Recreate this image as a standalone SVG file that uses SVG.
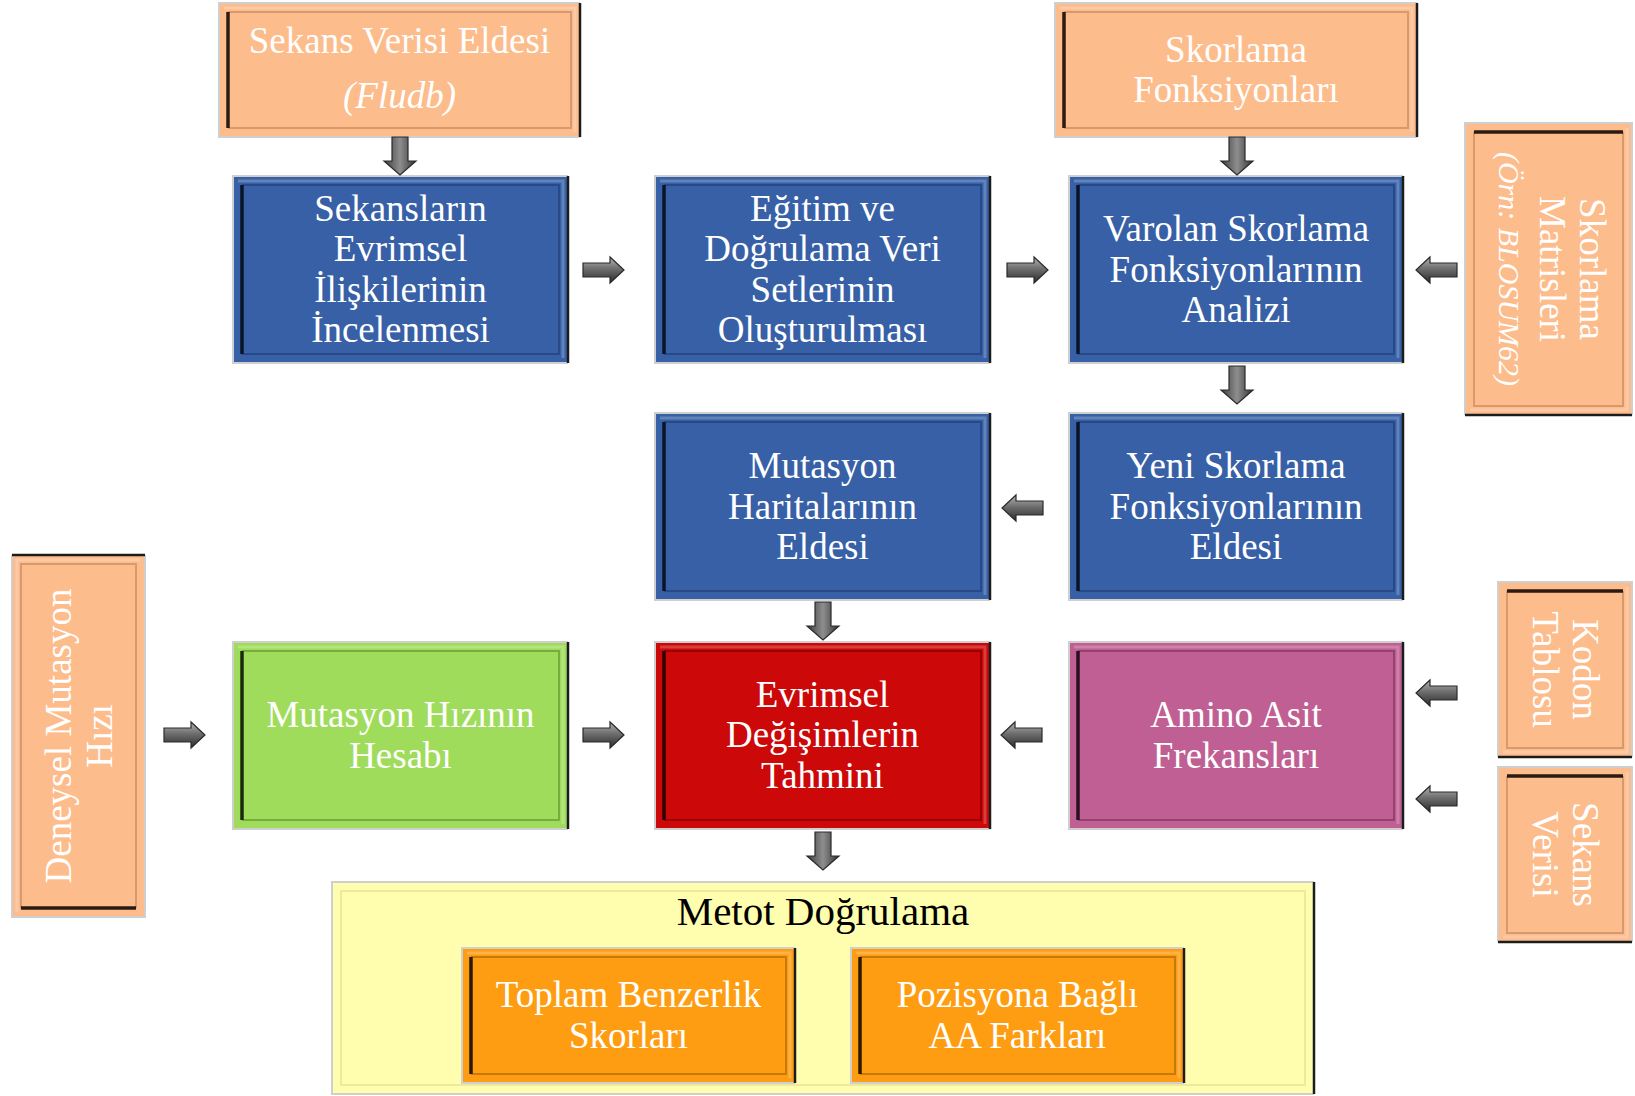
<svg xmlns="http://www.w3.org/2000/svg" width="1635" height="1096" viewBox="0 0 1635 1096">
  <defs>
    <linearGradient id="gH" x1="0" y1="0" x2="0" y2="1">
      <stop offset="0" stop-color="#b4b4b4"/>
      <stop offset="0.45" stop-color="#6e6e6e"/>
      <stop offset="1" stop-color="#2c2c2c"/>
    </linearGradient>
    <linearGradient id="gV" x1="0" y1="0" x2="1" y2="0">
      <stop offset="0" stop-color="#3c3c3c"/>
      <stop offset="0.5" stop-color="#8e8e8e"/>
      <stop offset="1" stop-color="#333333"/>
    </linearGradient>
  </defs>
  <style>
    .ol{fill:none;stroke:#cfcfcf;stroke-width:2}
    .od{fill:none;stroke:#1c1c1c;stroke-width:2.5}
    .hl{fill:none;stroke:#ffffff;stroke-opacity:0.22;stroke-width:3}
    .in{fill:none;stroke-width:2}
    .thick{fill:none;stroke-width:3.5}
    .t{font-family:"Liberation Serif","Times New Roman",serif;font-size:37px;fill:#ffffff;text-anchor:middle}
    .i{font-style:italic}
    .sm{font-size:30px}
    .title{font-family:"Liberation Serif","Times New Roman",serif;font-size:41px;fill:#000000;text-anchor:middle}
    .peach .body{fill:#FDBC8C} .peach .in{stroke:#d8996c} .peach .thick{stroke:#2a1a10}
    .blue .body{fill:#3760A6} .blue .in{stroke:#27498a} .blue .thick{stroke:#0b1426}
    .green .body{fill:#A0DC5B} .green .in{stroke:#76ad3c} .green .thick{stroke:#1a2a0a}
    .red .body{fill:#CC0808} .red .in{stroke:#9a0000} .red .thick{stroke:#2e0000}
    .pink .body{fill:#BF5F93} .pink .in{stroke:#964270} .pink .thick{stroke:#2a0f1e}
    .orange .body{fill:#FF9D12} .orange .in{stroke:#c8790a} .orange .thick{stroke:#2a1a00}
    .yellow .body{fill:#FFFDAE} .yellow .in{stroke:#ecea9c}
    .arr-h{fill:url(#gH);stroke:#2a2a2a;stroke-width:1.2}
    .arr-v{fill:url(#gV);stroke:#2a2a2a;stroke-width:1.2}
  </style>

  <rect width="1635" height="1096" fill="#ffffff"/>

  <!-- source data (top left) -->
  <g id="n-sekans-verisi-eldesi" class="node peach">
    <rect class="body" x="219" y="3" width="361" height="134"/>
    <path class="ol" d="M580,3 H219 V137 H580"/>
    <path class="od" d="M580,3 V137"/>
    <path class="hl" d="M224,8 H575 V132"/>
    <path class="in" d="M228,12 H571 V128 H228"/>
    <path class="thick" d="M228,12 V128"/>
    <text class="t" x="399.5" y="53">Sekans Verisi Eldesi</text>
    <text class="t i" x="399.5" y="108">(Fludb)</text>
  </g>

  <g id="n-skorlama-fonksiyonlari" class="node peach">
    <rect class="body" x="1055" y="3" width="362" height="134"/>
    <path class="ol" d="M1417,3 H1055 V137 H1417"/>
    <path class="od" d="M1417,3 V137"/>
    <path class="hl" d="M1060,8 H1412 V132"/>
    <path class="in" d="M1064,12 H1408 V128 H1064"/>
    <path class="thick" d="M1064,12 V128"/>
    <text class="t" x="1236" y="62">Skorlama</text>
    <text class="t" x="1236" y="102">Fonksiyonları</text>
  </g>

  <g id="n-skorlama-matrisleri" class="node peach">
    <rect class="body" x="1465" y="123" width="167" height="292"/>
    <path class="ol" d="M1465,415 V123 H1632 V415"/>
    <path class="od" d="M1465,415 H1632"/>
    <path class="hl" d="M1627,128 V410 H1470"/>
    <path class="in" d="M1474,132 V406 H1623 V132"/>
    <path class="thick" d="M1474,132 H1623"/>
    <g transform="translate(1548.5,269) rotate(90)">
      <text class="t" x="0" y="-31">Skorlama</text>
      <text class="t" x="0" y="9">Matrisleri</text>
      <text class="t i sm" x="0" y="50">(Örn: BLOSUM62)</text>
    </g>
  </g>

  <!-- first row -->
  <g id="n-sekanslarin-iliskileri" class="node blue">
    <rect class="body" x="233" y="176" width="335" height="187"/>
    <path class="ol" d="M568,176 H233 V363 H568"/>
    <path class="od" d="M568,176 V363"/>
    <path class="hl" d="M238,181 H563 V358"/>
    <path class="in" d="M242,185 H559 V354 H242"/>
    <path class="thick" d="M242,185 V354"/>
    <text class="t" x="400.5" y="221">Sekansların</text>
    <text class="t" x="400.5" y="261">Evrimsel</text>
    <text class="t" x="400.5" y="302">İlişkilerinin</text>
    <text class="t" x="400.5" y="342">İncelenmesi</text>
  </g>

  <g id="n-egitim-dogrulama" class="node blue">
    <rect class="body" x="655" y="176" width="335" height="187"/>
    <path class="ol" d="M990,176 H655 V363 H990"/>
    <path class="od" d="M990,176 V363"/>
    <path class="hl" d="M660,181 H985 V358"/>
    <path class="in" d="M664,185 H981 V354 H664"/>
    <path class="thick" d="M664,185 V354"/>
    <text class="t" x="822.5" y="221">Eğitim ve</text>
    <text class="t" x="822.5" y="261">Doğrulama Veri</text>
    <text class="t" x="822.5" y="302">Setlerinin</text>
    <text class="t" x="822.5" y="342">Oluşturulması</text>
  </g>

  <g id="n-varolan-analiz" class="node blue">
    <rect class="body" x="1069" y="176" width="334" height="187"/>
    <path class="ol" d="M1403,176 H1069 V363 H1403"/>
    <path class="od" d="M1403,176 V363"/>
    <path class="hl" d="M1074,181 H1398 V358"/>
    <path class="in" d="M1078,185 H1394 V354 H1078"/>
    <path class="thick" d="M1078,185 V354"/>
    <text class="t" x="1236" y="241">Varolan Skorlama</text>
    <text class="t" x="1236" y="281.5">Fonksiyonlarının</text>
    <text class="t" x="1236" y="322">Analizi</text>
  </g>

  <!-- second row -->
  <g id="n-mutasyon-haritalari" class="node blue">
    <rect class="body" x="655" y="413" width="335" height="187"/>
    <path class="ol" d="M990,413 H655 V600 H990"/>
    <path class="od" d="M990,413 V600"/>
    <path class="hl" d="M660,418 H985 V595"/>
    <path class="in" d="M664,422 H981 V591 H664"/>
    <path class="thick" d="M664,422 V591"/>
    <text class="t" x="822.5" y="478">Mutasyon</text>
    <text class="t" x="822.5" y="518.5">Haritalarının</text>
    <text class="t" x="822.5" y="559">Eldesi</text>
  </g>

  <g id="n-yeni-skorlama" class="node blue">
    <rect class="body" x="1069" y="413" width="334" height="187"/>
    <path class="ol" d="M1403,413 H1069 V600 H1403"/>
    <path class="od" d="M1403,413 V600"/>
    <path class="hl" d="M1074,418 H1398 V595"/>
    <path class="in" d="M1078,422 H1394 V591 H1078"/>
    <path class="thick" d="M1078,422 V591"/>
    <text class="t" x="1236" y="478">Yeni Skorlama</text>
    <text class="t" x="1236" y="518.5">Fonksiyonlarının</text>
    <text class="t" x="1236" y="559">Eldesi</text>
  </g>

  <!-- third row -->
  <g id="n-deneysel-mutasyon" class="node peach">
    <rect class="body" x="12" y="555" width="133" height="362"/>
    <path class="ol" d="M12,555 V917 H145 V555"/>
    <path class="od" d="M12,555 H145"/>
    <path class="hl" d="M17,912 V560 H140"/>
    <path class="in" d="M21,908 V564 H136 V908"/>
    <path class="thick" d="M21,908 H136"/>
    <g transform="translate(78.5,736) rotate(-90)">
      <text class="t" x="0" y="-8">Deneysel Mutasyon</text>
      <text class="t" x="0" y="33">Hızı</text>
    </g>
  </g>

  <g id="n-mutasyon-hizi" class="node green">
    <rect class="body" x="233" y="642" width="335" height="187"/>
    <path class="ol" d="M568,642 H233 V829 H568"/>
    <path class="od" d="M568,642 V829"/>
    <path class="hl" d="M238,647 H563 V824"/>
    <path class="in" d="M242,651 H559 V820 H242"/>
    <path class="thick" d="M242,651 V820"/>
    <text class="t" x="400.5" y="727">Mutasyon Hızının</text>
    <text class="t" x="400.5" y="768">Hesabı</text>
  </g>

  <g id="n-evrimsel-degisim" class="node red">
    <rect class="body" x="655" y="642" width="335" height="187"/>
    <path class="ol" d="M990,642 H655 V829 H990"/>
    <path class="od" d="M990,642 V829"/>
    <path class="hl" d="M660,647 H985 V824"/>
    <path class="in" d="M664,651 H981 V820 H664"/>
    <path class="thick" d="M664,651 V820"/>
    <text class="t" x="822.5" y="706.5">Evrimsel</text>
    <text class="t" x="822.5" y="747">Değişimlerin</text>
    <text class="t" x="822.5" y="787.5">Tahmini</text>
  </g>

  <g id="n-amino-asit" class="node pink">
    <rect class="body" x="1069" y="642" width="334" height="187"/>
    <path class="ol" d="M1403,642 H1069 V829 H1403"/>
    <path class="od" d="M1403,642 V829"/>
    <path class="hl" d="M1074,647 H1398 V824"/>
    <path class="in" d="M1078,651 H1394 V820 H1078"/>
    <path class="thick" d="M1078,651 V820"/>
    <text class="t" x="1236" y="727">Amino Asit</text>
    <text class="t" x="1236" y="768">Frekansları</text>
  </g>

  <g id="n-kodon-tablosu" class="node peach">
    <rect class="body" x="1498" y="582" width="134" height="175"/>
    <path class="ol" d="M1498,757 V582 H1632 V757"/>
    <path class="od" d="M1498,757 H1632"/>
    <path class="hl" d="M1627,587 V752 H1503"/>
    <path class="in" d="M1507,591 V748 H1623 V591"/>
    <path class="thick" d="M1507,591 H1623"/>
    <g transform="translate(1565,669.5) rotate(90)">
      <text class="t" x="0" y="-8">Kodon</text>
      <text class="t" x="0" y="32">Tablosu</text>
    </g>
  </g>

  <g id="n-sekans-verisi" class="node peach">
    <rect class="body" x="1498" y="767" width="134" height="175"/>
    <path class="ol" d="M1498,942 V767 H1632 V942"/>
    <path class="od" d="M1498,942 H1632"/>
    <path class="hl" d="M1627,772 V937 H1503"/>
    <path class="in" d="M1507,776 V933 H1623 V776"/>
    <path class="thick" d="M1507,776 H1623"/>
    <g transform="translate(1565,854.5) rotate(90)">
      <text class="t" x="0" y="-8">Sekans</text>
      <text class="t" x="0" y="32">Verisi</text>
    </g>
  </g>

  <!-- validation block -->
  <g id="n-metot-dogrulama" class="node yellow">
    <rect class="body" x="332" y="882" width="982" height="212"/>
    <path class="ol" d="M1314,882 H332 V1094 H1314"/>
    <path class="od" d="M1314,882 V1094"/>
    <path class="in" d="M341,891 H1305 V1085 H341 Z"/>
    <text class="title" x="823" y="925">Metot Doğrulama</text>
  </g>

  <g id="n-toplam-benzerlik" class="node orange">
    <rect class="body" x="462" y="948" width="333" height="135"/>
    <path class="ol" d="M795,948 H462 V1083 H795"/>
    <path class="od" d="M795,948 V1083"/>
    <path class="hl" d="M467,953 H790 V1078"/>
    <path class="in" d="M471,957 H786 V1074 H471"/>
    <path class="thick" d="M471,957 V1074"/>
    <text class="t" x="628.5" y="1007">Toplam Benzerlik</text>
    <text class="t" x="628.5" y="1048">Skorları</text>
  </g>

  <g id="n-pozisyona-bagli" class="node orange">
    <rect class="body" x="851" y="948" width="333" height="135"/>
    <path class="ol" d="M1184,948 H851 V1083 H1184"/>
    <path class="od" d="M1184,948 V1083"/>
    <path class="hl" d="M856,953 H1179 V1078"/>
    <path class="in" d="M860,957 H1175 V1074 H860"/>
    <path class="thick" d="M860,957 V1074"/>
    <text class="t" x="1017.5" y="1007">Pozisyona Bağlı</text>
    <text class="t" x="1017.5" y="1048">AA Farkları</text>
  </g>

  <!-- block arrows between steps -->
  <g id="connectors">
    <path class="arr-v" d="M392,137 V161 H384 L400,175 L416,161 H408 V137 Z"/>
    <path class="arr-v" d="M1229,137 V161 H1221 L1237,175 L1253,161 H1245 V137 Z"/>
    <path class="arr-h" d="M583,263 H610 V257 L624,270 L610,283 V277 H583 Z"/>
    <path class="arr-h" d="M1007,263 H1034 V257 L1048,270 L1034,283 V277 H1007 Z"/>
    <path class="arr-h" d="M1457,263 H1430 V257 L1416,270 L1430,283 V277 H1457 Z"/>
    <path class="arr-v" d="M1229,366 V390 H1221 L1237,404 L1253,390 H1245 V366 Z"/>
    <path class="arr-h" d="M1043,501 H1016 V495 L1002,508 L1016,521 V515 H1043 Z"/>
    <path class="arr-v" d="M815,602 V626 H807 L823,640 L839,626 H831 V602 Z"/>
    <path class="arr-h" d="M164,728 H191 V722 L205,735 L191,748 V742 H164 Z"/>
    <path class="arr-h" d="M583,728 H610 V722 L624,735 L610,748 V742 H583 Z"/>
    <path class="arr-h" d="M1042,728 H1015 V722 L1001,735 L1015,748 V742 H1042 Z"/>
    <path class="arr-h" d="M1457,686 H1430 V680 L1416,693 L1430,706 V700 H1457 Z"/>
    <path class="arr-h" d="M1457,792 H1430 V786 L1416,799 L1430,812 V806 H1457 Z"/>
    <path class="arr-v" d="M815,832 V856 H807 L823,870 L839,856 H831 V832 Z"/>
  </g>
</svg>
